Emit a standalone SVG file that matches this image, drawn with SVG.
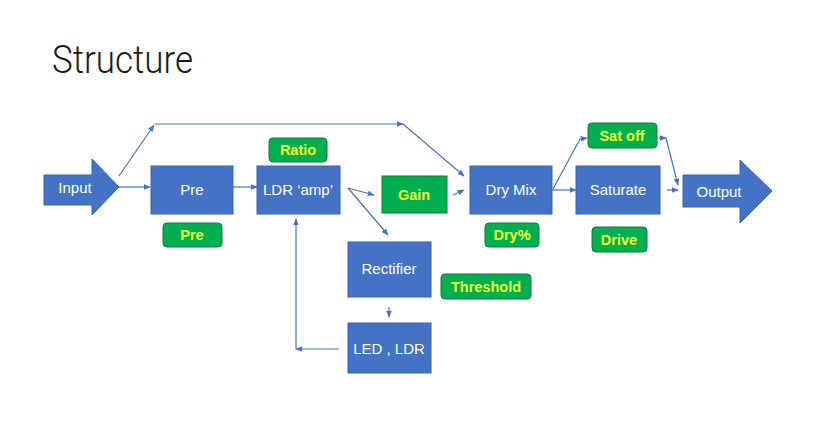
<svg xmlns="http://www.w3.org/2000/svg" width="818" height="444" viewBox="0 0 818 444">
<defs>
<style>
.box{fill:#4472C4;stroke:#3A63AE;stroke-width:1}
.bt{fill:#fff;font-family:"Liberation Sans",Arial,sans-serif;font-size:15px;text-anchor:middle}
.lab{fill:#00B050;stroke:#0B7A3A;stroke-width:1}
.lt{fill:#F2FF2E;font-family:"Liberation Sans",Arial,sans-serif;font-size:14.5px;font-weight:bold;text-anchor:middle}
.c{fill:none;stroke:#4472C4;stroke-width:1.2}
</style>
<marker id="ah" viewBox="0 0 10 10" refX="9" refY="5" markerWidth="7" markerHeight="7" orient="auto" markerUnits="userSpaceOnUse">
<path d="M0,1 L10,5 L0,9 Z" fill="#4472C4"/>
</marker>
</defs>
<rect width="818" height="444" fill="#fff"/>
<text x="52" y="73" font-family="Roboto,'Liberation Sans',Arial,sans-serif" font-weight="300" font-size="38" textLength="141" lengthAdjust="spacingAndGlyphs" fill="#1a1a1a">Structure</text>

<g id="connectors">
<path class="c" d="M119,176 L154,125" marker-end="url(#ah)"/>
<path class="c" d="M155,124 L403,124" marker-end="url(#ah)"/>
<path class="c" d="M403,124 L464,176" marker-end="url(#ah)"/>
<path class="c" d="M119,187 L150,187" marker-end="url(#ah)"/>
<path class="c" d="M233,187 L257,187" marker-end="url(#ah)"/>
<path class="c" d="M348,188 L374,195" marker-end="url(#ah)"/>
<path class="c" d="M348,188 L388,235" marker-end="url(#ah)"/>
<path class="c" d="M453,195 L464,190" marker-end="url(#ah)"/>
<path class="c" d="M552,190 L576,190" marker-end="url(#ah)"/>
<path class="c" d="M553,189 L580,139 L587,138" marker-end="url(#ah)"/>
<path class="c" d="M659,138 L666,138" marker-end="url(#ah)"/>
<path class="c" d="M666,138 L678,185" marker-end="url(#ah)"/>
<path class="c" d="M667,190 L678,190" marker-end="url(#ah)"/>
<path class="c" d="M389,307 L389,317" marker-end="url(#ah)"/>
<path class="c" d="M339,349 L296,349" marker-end="url(#ah)"/>
<path class="c" d="M296,349 L296,219" marker-end="url(#ah)"/>
</g>

<g id="input">
<path class="box" d="M44,175 L92,175 L92,159 L119,187 L92,215 L92,205 L44,205 Z"/>
<text class="bt" x="75" y="193">Input</text>
</g>
<g id="pre">
<rect class="box" x="151" y="166" width="82" height="48"/>
<text class="bt" x="192" y="195">Pre</text>
</g>
<g id="ldr-amp">
<rect class="box" x="257" y="166" width="83" height="48"/>
<text class="bt" x="298" y="195">LDR ‘amp’</text>
</g>
<g id="ratio">
<rect class="lab" x="269" y="138" width="58" height="24" rx="4"/>
<text class="lt" x="298" y="155">Ratio</text>
</g>
<g id="pre-label">
<rect class="lab" x="163" y="223" width="59" height="24" rx="4"/>
<text class="lt" x="192" y="240">Pre</text>
</g>
<g id="gain">
<rect class="lab" x="382" y="176" width="65" height="37"/>
<text class="lt" x="414" y="200">Gain</text>
</g>
<g id="dry-mix">
<rect class="box" x="470" y="166" width="82" height="48"/>
<text class="bt" x="511" y="195">Dry Mix</text>
</g>
<g id="dry-label">
<rect class="lab" x="485" y="223" width="54" height="24" rx="4"/>
<text class="lt" x="512" y="240">Dry%</text>
</g>
<g id="sat-off">
<rect class="lab" x="588" y="123" width="69" height="25" rx="4"/>
<text class="lt" x="622" y="141">Sat off</text>
</g>
<g id="saturate">
<rect class="box" x="576" y="166" width="84" height="48"/>
<text class="bt" x="618" y="195">Saturate</text>
</g>
<g id="drive">
<rect class="lab" x="592" y="227" width="55" height="25" rx="4"/>
<text class="lt" x="619" y="245">Drive</text>
</g>
<g id="output">
<path class="box" d="M683,175 L740,175 L740,160 L772,191 L740,223 L740,207 L683,207 Z"/>
<text class="bt" x="719" y="197">Output</text>
</g>
<g id="rectifier">
<rect class="box" x="348" y="242" width="83" height="55"/>
<text class="bt" x="389" y="274">Rectifier</text>
</g>
<g id="threshold">
<rect class="lab" x="441" y="274" width="90" height="25" rx="4"/>
<text class="lt" x="486" y="292">Threshold</text>
</g>
<g id="led-ldr">
<rect class="box" x="348" y="323" width="83" height="50"/>
<text class="bt" x="389" y="354">LED , LDR</text>
</g>
</svg>
